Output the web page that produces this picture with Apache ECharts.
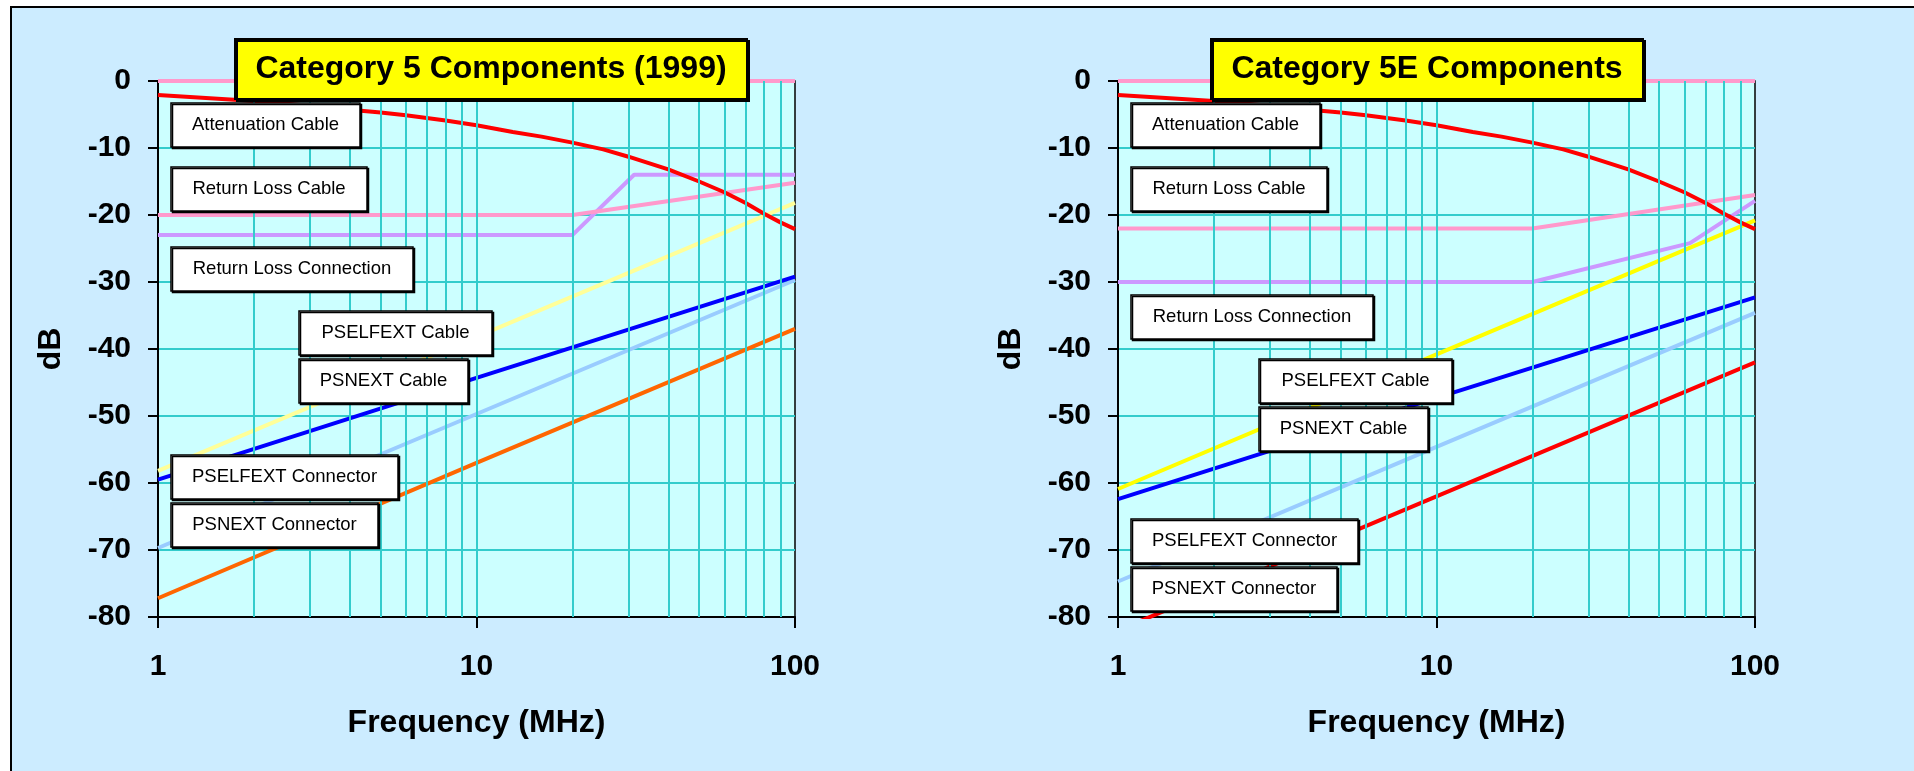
<!DOCTYPE html>
<html>
<head>
<meta charset="utf-8">
<script src="https://cdn.jsdelivr.net/npm/echarts@6/dist/echarts.min.js"></script>
<style>
  html, body { margin:0; padding:0; background:#ffffff; overflow:hidden; }
  #frame { position:absolute; left:10px; top:6px; width:2000px; height:1000px; border:2px solid #000; background:#CCECFF; }
  #chart { position:absolute; left:0; top:0; width:1914px; height:771px; }
</style>
</head>
<body>
<div id="frame"></div>
<div id="chart"></div>
<script>
// ---------------- data ----------------
const chartTitles = ['Category 5 Components (1999)', 'Category 5E Components'];
const labelTexts = ['Attenuation Cable', 'Return Loss Cable', 'Return Loss Connection',
  'PSELFEXT Cable', 'PSNEXT Cable', 'PSELFEXT Connector', 'PSNEXT Connector'];

const xMin = 1, xMax = 100;
const yMin = -80, yMax = 0, yInterval = 10;
const minorFreqs = [2, 3, 4, 5, 6, 7, 8, 9, 10, 20, 30, 40, 50, 60, 70, 80, 90];

const fZero = [1, 100];
const zeroRef = [0, 0];

const fAtt = [1, 2, 3, 4, 5, 6, 8, 10, 13, 16, 20, 25, 30, 40, 50, 60, 70, 80, 90, 100];
const attCable = [-2.1, -3.0, -3.7, -4.3, -4.7, -5.1, -5.9, -6.6, -7.6, -8.3, -9.2, -10.2, -11.3, -13.2, -15.0, -16.6, -18.2, -19.8, -21.1, -22.1];

const fRLCable = [1, 20, 100];
const c5RLCable = [-20, -20, -15.2];
const c5eRLCable = [-22, -22, -17.0];

const fRLConn5 = [1, 20, 31.25, 100];
const c5RLConn = [-23, -23, -14, -14];
const fRLConn5e = [1, 20, 62.5, 100];
const c5eRLConn = [-30, -30, -24.2, -17.9];

const fXT = [1, 10, 100];
const c5PSELFEXTCable = [-58.2, -38.2, -18.2];
const c5PSNEXTCable = [-59.5, -44.3, -29.2];
const c5PSELFEXTConn = [-69.7, -49.7, -29.7];
const c5PSNEXTConn = [-77.2, -57.0, -37.0];
const c5ePSELFEXTCable = [-60.9, -40.8, -20.8];
const c5ePSNEXTCable = [-62.4, -47.3, -32.3];
const c5ePSELFEXTConn = [-74.7, -54.6, -34.6];
const c5ePSNEXTConn = [-82.0, -62.0, -42.0];

// ---------------- layout ----------------
const FONT = 'Arial, "Liberation Sans", Helvetica, sans-serif';
const gridLefts = [158, 1118];
const gridTop = 81, gridW = 637, gridH = 536;
const titleBoxes = [{x:235, y:39, w:512, h:60}, {x:1211, y:39, w:432, h:60}];
// label boxes relative to grid left: [dx, y, w]
const labelBoxes = [
  [[13,103,189],[13,167,196],[13,247,242],[141,311,193],[141,359,169],[13,455,227],[13,503,207]],
  [[13,103,189],[13,167,196],[13,295,242],[141,359,193],[141,407,169],[13,519,227],[13,567,206]]
];

function pairs(xs, ys) { return xs.map((x, i) => [x, ys[i]]); }
function line(gi, xs, ys, color, z) {
  return {
    type: 'line', xAxisIndex: gi, yAxisIndex: gi, data: pairs(xs, ys),
    symbol: 'none', showSymbol: false, silent: true, animation: false, clip: true,
    lineStyle: { color: color, width: 4 }, itemStyle: { color: color }, z: z || 3
  };
}

const grids = [], xAxes = [], yAxes = [], series = [], graphics = [];
for (let gi = 0; gi < 2; gi++) {
  grids.push({ left: gridLefts[gi], top: gridTop, width: gridW, height: gridH, show: true,
    backgroundColor: '#CCFFFF', borderColor: '#000', borderWidth: 1.5, containLabel: false });
  xAxes.push({
    type: 'log', logBase: 10, min: xMin, max: xMax, gridIndex: gi,
    axisLine: { show: true, onZero: false, lineStyle: { color: '#000', width: 2 } },
    axisTick: { show: true, length: 11, lineStyle: { color: '#000', width: 2 } },
    axisLabel: { color: '#000', fontSize: 30, fontWeight: 'bold', fontFamily: FONT, margin: 35 },
    splitLine: { show: false }, minorTick: { show: false }, minorSplitLine: { show: false },
    name: 'Frequency (MHz)', nameLocation: 'middle', nameGap: 90,
    nameTextStyle: { color: '#000', fontSize: 32, fontWeight: 'bold', fontFamily: FONT }
  });
  yAxes.push({
    type: 'value', min: yMin, max: yMax, interval: yInterval, gridIndex: gi,
    axisLine: { show: true, onZero: false, lineStyle: { color: '#000', width: 2 } },
    axisTick: { show: true, length: 10, lineStyle: { color: '#000', width: 2 } },
    axisLabel: { color: '#000', fontSize: 30, fontWeight: 'bold', fontFamily: FONT, margin: 27 },
    splitLine: { show: true, lineStyle: { color: '#33CCCC', width: 2 } },
    name: 'dB', nameLocation: 'middle', nameRotate: 90, nameGap: 91,
    nameTextStyle: { color: '#000', fontSize: 32, fontWeight: 'bold', fontFamily: FONT }
  });
  // vertical log grid lines
  series.push({
    type: 'line', xAxisIndex: gi, yAxisIndex: gi, data: [[1, -80]], symbol: 'none',
    lineStyle: { width: 0, opacity: 0 }, silent: true, animation: false, z: 1,
    markLine: { silent: true, symbol: ['none', 'none'], label: { show: false }, animation: false,
      lineStyle: { color: '#33CCCC', width: 2, type: 'solid' },
      data: minorFreqs.map(v => ({ xAxis: v })) }
  });
  // title
  const tb = titleBoxes[gi];
  graphics.push({ type: 'rect', z: 100, shape: { x: tb.x, y: tb.y, width: tb.w, height: tb.h },
    style: { fill: '#FFFF00', stroke: '#000', lineWidth: 2, shadowColor: '#000', shadowOffsetX: 2, shadowOffsetY: 2, shadowBlur: 0 } });
  graphics.push({ type: 'text', z: 101, x: tb.x + tb.w / 2, y: tb.y + tb.h / 2,
    style: { text: chartTitles[gi], fill: '#000', font: 'bold 32px ' + FONT,
      textAlign: 'center', textVerticalAlign: 'middle', align: 'center', verticalAlign: 'middle' } });
  // labels
  labelBoxes[gi].forEach((b, i) => {
    const x = gridLefts[gi] + b[0], y = b[1], w = b[2], h = 44;
    graphics.push({ type: 'rect', z: 100, shape: { x: x, y: y, width: w, height: h },
      style: { fill: '#FFFFFF', stroke: '#000', lineWidth: 1.5, shadowColor: '#000', shadowOffsetX: 1.5, shadowOffsetY: 1.5, shadowBlur: 0 } });
    graphics.push({ type: 'text', z: 101, x: x + w / 2, y: y + h / 2,
      style: { text: labelTexts[i], fill: '#000', font: '18.5px ' + FONT,
        textAlign: 'center', textVerticalAlign: 'middle', align: 'center', verticalAlign: 'middle' } });
  });
}

// Category 5 series
series.push(line(0, fZero, zeroRef, '#FF99CC'));
series.push(line(0, fRLConn5, c5RLConn, '#CC99FF'));
series.push(line(0, fRLCable, c5RLCable, '#FF99CC'));
series.push(line(0, fXT, c5PSELFEXTCable, '#FFFF99'));
series.push(line(0, fXT, c5PSELFEXTConn, '#99CCFF'));
series.push(line(0, fXT, c5PSNEXTCable, '#0000FF'));
series.push(line(0, fXT, c5PSNEXTConn, '#FF6600'));
series.push(line(0, fAtt, attCable, '#FF0000'));
// Category 5E series
series.push(line(1, fZero, zeroRef, '#FF99CC'));
series.push(line(1, fRLConn5e, c5eRLConn, '#CC99FF'));
series.push(line(1, fRLCable, c5eRLCable, '#FF99CC'));
series.push(line(1, fXT, c5ePSELFEXTCable, '#FFFF00'));
series.push(line(1, fXT, c5ePSELFEXTConn, '#99CCFF'));
series.push(line(1, fXT, c5ePSNEXTCable, '#0000FF'));
series.push(line(1, fXT, c5ePSNEXTConn, '#FF0000'));
series.push(line(1, fAtt, attCable, '#FF0000'));

const chart = echarts.init(document.getElementById('chart'), null, { renderer: 'canvas' });
chart.setOption({
  backgroundColor: 'transparent',
  animation: false,
  grid: grids, xAxis: xAxes, yAxis: yAxes, series: series,
  graphic: { elements: graphics }
});
</script>
</body>
</html>
